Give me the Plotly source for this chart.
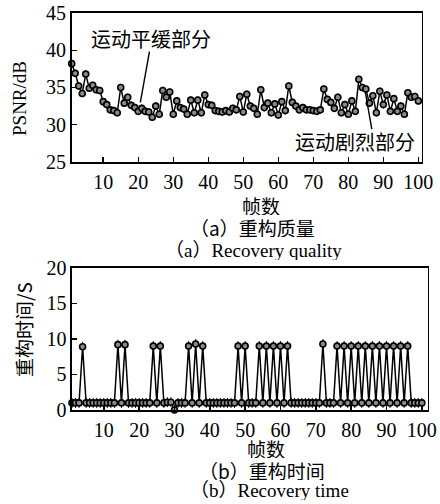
import plotly.graph_objects as go

frames = list(range(1, 101))

psnr = [38.2, 36.9, 35.2, 34.2, 36.8, 34.9, 35.3, 34.7, 34.6, 33.1,
        32.7, 32.0, 31.9, 31.6, 35.0, 32.9, 33.7, 32.6, 32.3, 31.8,
        32.2, 31.8, 31.7, 31.0, 32.5, 31.4, 34.6, 33.7, 34.4, 31.4,
        33.2, 32.3, 32.1, 31.4, 33.3, 31.6, 33.3, 31.6, 34.0, 32.7,
        32.6, 31.9, 31.8, 31.7, 31.9, 31.7, 32.2, 32.0, 33.8, 31.7,
        34.1, 32.5, 32.2, 31.4, 34.7, 32.3, 32.9, 31.6, 32.8, 31.3,
        33.1, 31.9, 35.2, 33.0, 32.5, 32.0, 32.3, 32.0, 32.0, 31.9,
        31.8, 32.0, 34.8, 33.4, 33.0, 32.2, 33.7, 31.6, 32.7, 31.4,
        33.2, 31.8, 36.1, 35.0, 34.8, 32.9, 33.9, 31.6, 34.5, 32.7,
        34.0, 31.8, 33.5, 31.8, 32.5, 31.4, 34.3, 33.7, 33.8, 33.2]

rec_time = [1.0, 1.0, 1.0, 8.9, 1.0, 1.0, 1.0, 1.0, 1.0, 1.0,
            1.0, 1.0, 1.0, 9.2, 1.0, 9.2, 1.0, 1.0, 1.0, 1.0,
            1.0, 1.0, 1.0, 9.0, 1.0, 9.0, 1.0, 1.1, 1.1, 0.0,
            1.0, 1.0, 1.0, 9.0, 1.0, 9.3, 1.0, 9.0, 1.0, 1.0,
            1.0, 1.0, 1.0, 1.0, 1.0, 1.0, 1.0, 9.0, 1.0, 9.0,
            1.0, 1.0, 1.0, 9.0, 1.0, 9.0, 1.0, 9.0, 1.0, 9.0,
            1.0, 9.0, 1.0, 1.0, 1.0, 1.0, 1.0, 1.0, 1.0, 1.0,
            1.0, 9.3, 1.0, 1.0, 1.0, 9.0, 1.0, 9.0, 1.0, 9.0,
            1.0, 9.0, 1.0, 9.0, 1.0, 9.0, 1.0, 9.0, 1.0, 9.0,
            1.0, 9.0, 1.0, 9.0, 1.0, 9.0, 1.0, 1.0, 1.0, 1.0]

x_ticks = [10, 20, 30, 40, 50, 60, 70, 80, 90, 100]
y1_ticks = [25, 30, 35, 40, 45]
y2_ticks = [0, 5, 10, 15, 20]

SERIF = "Liberation Serif, Noto Sans CJK SC"
CJK = "Noto Sans CJK SC, Liberation Serif"

marker = dict(symbol="circle", size=6, color="#8a8a8a",
              line=dict(color="black", width=1.6))

fig = go.Figure()
fig.add_trace(go.Scatter(
    x=frames, y=psnr, mode="lines+markers",
    line=dict(color="black", width=1.5), marker=marker,
    error_y=dict(type="constant", value=0.5, color="black", thickness=1, width=0),
    cliponaxis=False, xaxis="x", yaxis="y", showlegend=False, hoverinfo="skip"))
fig.add_trace(go.Scatter(
    x=frames, y=rec_time, mode="lines+markers",
    line=dict(color="black", width=1.5), marker=marker,
    error_y=dict(type="constant", value=0.7, color="black", thickness=1, width=0),
    cliponaxis=False, xaxis="x2", yaxis="y2", showlegend=False, hoverinfo="skip"))

axis_common = dict(showline=True, linecolor="black", linewidth=1.6, mirror=True,
                   ticks="inside", ticklen=5, tickwidth=1.5, tickcolor="black",
                   showgrid=False, zeroline=False, automargin=False,
                   tickfont=dict(family=SERIF, size=20, color="black"))

fig.update_layout(
    template="none",
    width=440, height=504,
    margin=dict(l=0, r=0, t=0, b=0, pad=0),
    paper_bgcolor="white", plot_bgcolor="white",
    xaxis=dict(domain=[0.163, 0.958], anchor="y", range=[1, 100.9],
               tickvals=x_ticks, ticklabelstandoff=1, **axis_common),
    yaxis=dict(domain=[0.6786, 0.9742], anchor="x", range=[25, 45],
               tickvals=y1_ticks, **axis_common),
    xaxis2=dict(domain=[0.1636, 0.9716], anchor="y2", range=[1, 101.6],
                tickvals=x_ticks, ticklabelstandoff=1, **axis_common),
    yaxis2=dict(domain=[0.1865, 0.4683], anchor="x2", range=[0, 20],
                tickvals=y2_ticks, **axis_common),
)

def ann(text, x, y, size=19, family=CJK, angle=0, height=None):
    fig.add_annotation(text=text, x=x, y=y, xref="paper", yref="paper",
                       showarrow=False, textangle=angle, borderpad=0,
                       height=height,
                       font=dict(family=family, size=size, color="black"),
                       xanchor="center", yanchor="middle")

ann("帧数", 0.593, 0.593, size=19, height=20)
ann("（a）重构质量", 0.573, 0.5496, size=19, height=20)
ann("（a）Recovery quality", 0.577, 0.504, size=19, family=SERIF, height=20)
ann("PSNR/dB", 0.0455, 0.8036, size=19, family=SERIF, angle=-90)
ann("帧数", 0.6045, 0.112, size=19, height=20)
ann("（b）重构时间", 0.595, 0.0675, size=19, height=20)
ann("（b）Recovery time", 0.6136, 0.0278, size=19, family=SERIF, height=20)
ann("重构时间/S", 0.052, 0.347, size=19, angle=-90)

# in-plot labels with leader lines
fig.add_annotation(text="运动平缓部分", x=23.5, y=41.6, xref="x", yref="y",
                   showarrow=False, font=dict(family=CJK, size=20, color="black"))
fig.add_annotation(text="运动剧烈部分", x=81.9, y=27.7, xref="x", yref="y",
                   showarrow=False, font=dict(family=CJK, size=20, color="black"))
fig.add_shape(type="line", xref="x", yref="y", x0=20.6, y0=33.0, x1=23.2, y1=39.8,
              line=dict(color="black", width=1.4))
fig.add_shape(type="line", xref="x", yref="y", x0=84.8, y0=34.5, x1=86.7, y1=29.4,
              line=dict(color="black", width=1.4))

fig.write_html("out.html",
               config={"displayModeBar": False, "staticPlot": True},
               post_script="document.body.style.margin='0px';"
                           "document.body.style.overflow='hidden';")
